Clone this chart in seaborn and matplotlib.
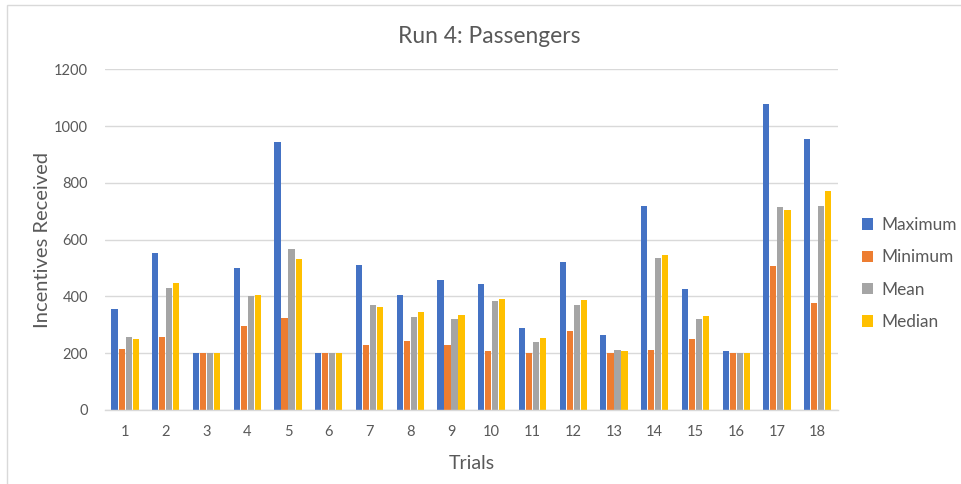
import matplotlib
matplotlib.use("Agg")
import matplotlib.pyplot as plt
import seaborn as sns
import pandas as pd
from matplotlib.patches import Rectangle

trials = [str(i) for i in range(1, 19)]
maximum = [355, 551, 200, 500, 942, 202, 510, 406, 459, 443, 290, 521, 263, 717, 425, 207, 1077, 955]
minimum = [215, 258, 200, 296, 323, 200, 229, 244, 229, 207, 201, 277, 201, 211, 250, 199, 507, 378]
mean = [256, 430, 200, 403, 567, 200, 368, 329, 321, 385, 240, 371, 210, 534, 321, 201, 716, 720]
median = [250, 448, 200, 406, 530, 200, 363, 346, 333, 390, 252, 387, 209, 545, 330, 201, 703, 770]
series_names = ["Maximum", "Minimum", "Mean", "Median"]
colors = ["#4472C4", "#ED7D31", "#A5A5A5", "#FFC000"]

rows = []
for name, vals in zip(series_names, [maximum, minimum, mean, median]):
    for t, v in zip(trials, vals):
        rows.append({"Trial": t, "Value": v, "Statistic": name})
df = pd.DataFrame(rows)

sns.set_theme(style="white")
plt.rcParams["font.family"] = ["Lato", "DejaVu Sans"]

fig = plt.figure(figsize=(9.61, 4.84), dpi=100)
ax = fig.add_axes([0.109, 0.153, 0.763, 0.704])

sns.barplot(data=df, x="Trial", y="Value", hue="Statistic", order=trials,
            hue_order=series_names, palette=colors, saturation=1,
            width=0.69, gap=0.12, edgecolor="none", ax=ax)

ax.set_ylim(0, 1200)
ax.set_yticks(range(0, 1201, 200))
ax.set_xlim(-0.5, len(trials) - 0.5)
ax.grid(axis="y", color="#D9D9D9", linewidth=1.0)
ax.set_axisbelow(True)
for side in ["top", "right", "left"]:
    ax.spines[side].set_visible(False)
ax.spines["bottom"].set_color("#D9D9D9")
ax.spines["bottom"].set_linewidth(1.0)
ax.tick_params(axis="both", length=0, labelsize=10.5, colors="#595959")
ax.tick_params(axis="x", pad=11)
ax.tick_params(axis="y", pad=12)

ax.set_xlabel("Trials", fontsize=14, color="#595959", labelpad=11)
ax.set_ylabel("Incentives Received", fontsize=14.5, color="#595959")
ax.yaxis.set_label_coords(-0.073, 0.5)
fig.suptitle("Run 4: Passengers", x=0.509, y=0.947, fontsize=16.4, color="#595959")

leg = ax.legend(loc="center left", bbox_to_anchor=(1.012, 0.4), frameon=False,
                handlelength=0.64, handleheight=0.64, handletextpad=0.45,
                labelspacing=0.95, fontsize=12.4)
for txt in leg.get_texts():
    txt.set_color("#595959")

# chart area border (left and top edges)
fig.add_artist(Rectangle((0.0075, -0.1), 1.2, 1.09, transform=fig.transFigure,
                         fill=False, edgecolor="#D9D9D9", linewidth=1.0))

fig.savefig("out.png", dpi=100, facecolor="white")
